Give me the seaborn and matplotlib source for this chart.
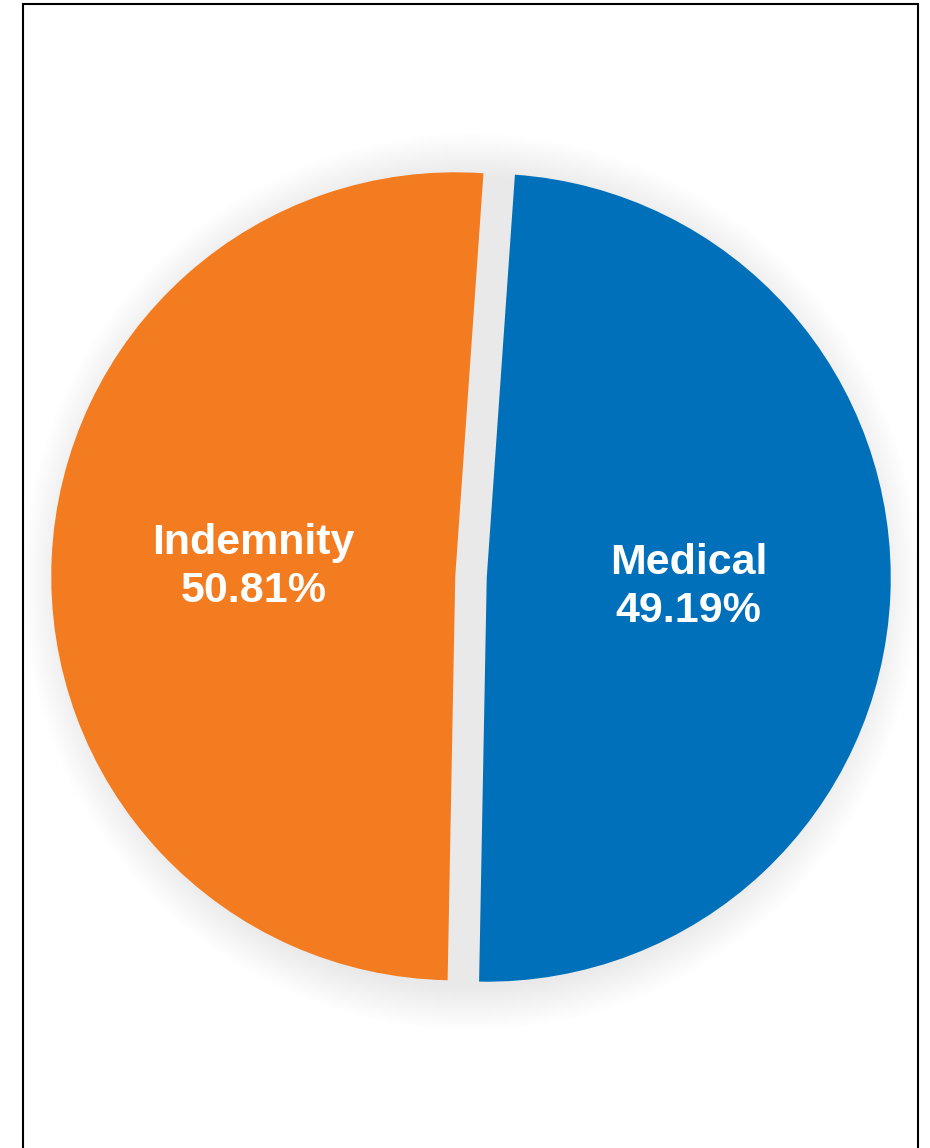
import seaborn as sns
import matplotlib.pyplot as plt
from matplotlib.patches import Circle, Rectangle

categories = ["Medical", "Indemnity"]
shares = [49.19, 50.81]
colors = ["#0070BA", "#F37B20"]

sns.set_theme(style="white")
plt.rcParams["font.family"] = ["Liberation Sans", "DejaVu Sans"]

W, H = 930, 1148
fig = plt.figure(figsize=(W / 100, H / 100), dpi=100)

# pie centre (471, 577) px, radius 404 px
R = 404
cx, cy = 471, H - 577
half = 520
ax = fig.add_axes([(cx - half) / W, (cy - half) / H, 2 * half / W, 2 * half / H])
lim = half / R

# soft shadow behind the pie
n = 22
for i in range(n):
    r = 1.0 + 0.11 * (i + 1) / n
    ax.add_patch(Circle((0.0, -0.012), r, color="black", alpha=0.0052, lw=0, zorder=0))

labels = [f"{c}\n{v:.2f}%" for c, v in zip(categories, shares)]
wedges, texts = ax.pie(
    shares,
    labels=labels,
    colors=colors,
    startangle=86,
    counterclock=False,
    explode=[0.039, 0.039],
    labeldistance=0.5,
    radius=1.0,
    frame=True,
    wedgeprops=dict(linewidth=0),
    textprops=dict(color="white", fontsize=31, fontweight="bold", linespacing=1.25),
)
for t in texts:
    t.set_ha("center")
    t.set_va("center")
ax.set_xlim(-lim, lim)
ax.set_ylim(-lim, lim)
ax.set_aspect("equal")
ax.axis("off")

# frame around the chart (open at the bottom)
fig.patches.append(Rectangle((23 / W, -0.05), (918 - 23) / W, (H - 4) / H + 0.05,
                             transform=fig.transFigure, fill=False,
                             edgecolor="black", linewidth=1.5))

fig.savefig("out.png", dpi=100)
